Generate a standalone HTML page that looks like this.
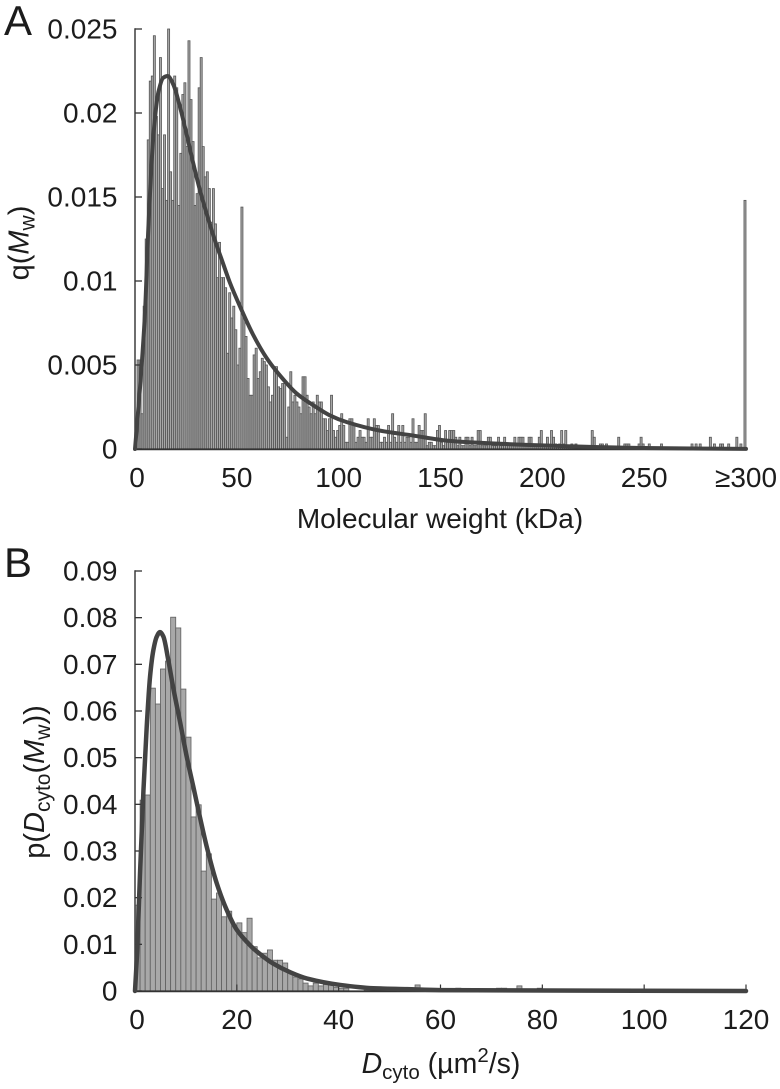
<!DOCTYPE html>
<html lang="en">
<head>
<meta charset="utf-8">
<title>Molecular weight and diffusion distributions</title>
<style>
html,body{margin:0;padding:0;background:#fff;width:780px;height:1089px;overflow:hidden}
svg{display:block}
text{font-family:"Liberation Sans",sans-serif;fill:#1c1c1c}
.tick{font-size:28px}
.title{font-size:28px}
.title-large{font-size:29px}
.title-mid{font-size:28.5px}
.panel{font-size:42px}
</style>
</head>
<body>
<svg id="figure" width="780" height="1089" viewBox="0 0 780 1089" xmlns="http://www.w3.org/2000/svg">
  <rect width="780" height="1089" fill="#fff"/>
  <g id="chartA"></g>
  <g id="chartB"></g>
  <text class="panel" x="4" y="35">A</text>
  <text class="panel" x="4" y="577">B</text>
  <text class="title" x="440" y="528" text-anchor="middle">Molecular weight (kDa)</text>
  <text class="title-large" transform="translate(28.5,243) rotate(-90)" text-anchor="middle">q(<tspan font-style="italic">M</tspan><tspan font-size="21" dy="6">w</tspan><tspan dy="-6">)</tspan></text>
  <text class="title-mid" x="441" y="1073" text-anchor="middle"><tspan font-style="italic">D</tspan><tspan font-size="20.5" dy="6">cyto</tspan><tspan dy="-6"> (µm</tspan><tspan font-size="20.5" dy="-11">2</tspan><tspan dy="11">/s)</tspan></text>
  <text class="title-large" transform="translate(44,782) rotate(-90)" text-anchor="middle">p(<tspan font-style="italic">D</tspan><tspan font-size="21" dy="6">cyto</tspan><tspan dy="-6">(</tspan><tspan font-style="italic">M</tspan><tspan font-size="21" dy="6">w</tspan><tspan dy="-6">))</tspan></text>
</svg>
<script>
// Panel A data
var massBinValues = [
.0014,.0053,.0053,.0021,.0085,.0125,.0184,.0219,.0222,.0246,
.0198,.0187,.0233,.0155,.0187,.0148,.025,.0165,.0148,.0222,
.0215,.0145,.0176,.0211,.0218,.018,.0243,.0208,.0183,.0145,
.0152,.0215,.0233,.018,.0162,.0165,.0155,.0135,.0155,.0134,
.0102,.0123,.0102,.0102,.0096,.0057,.0093,.0078,.0085,.0071,
.005,.006,.0144,.0078,.0067,.0042,.0032,.0032,.0056,.006,
.0042,.0046,.0054,.0052,.005,.0037,.0028,.0032,.0049,.0049,
.0037,.0036,.0039,.0039,.0007,.0025,.0046,.0028,.0032,.0028,
.0025,.0021,.0043,.0043,.0032,.0025,.0021,.0028,.0021,.0032,
.0028,.0028,.0018,.0018,.0011,.0018,.0032,.0011,.0007,.0011,
.0014,.0021,.0014,.0004,.0004,.0018,.0018,.0014,.0004,.0007,
.0011,.0007,.0007,.0004,.0018,.0007,.0007,.0018,.0014,.0014,
.0004,.0004,.0007,.0004,.0014,.0004,.0021,.0007,.0004,.0014,
.0004,.0014,.0004,.0007,.0007,.0004,.0018,.0004,.0004,.0014,
.0011,.0011,.0021,.0002,.0004,.0004,.0002,.0002,.0011,.0014,
.0004,.0002,.0011,.0004,.0011,.0011,.0011,.0007,.0002,.0007,
.0002,.0002,.0007,.0007,.0002,.0007,.0002,.0002,.0011,.0011,
.0002,.0002,.0002,.0007,.0007,.0002,.0002,.0002,.0007,.0002,
.0002,.0007,.0002,.0002,.0002,.0002,.0007,.0002,.0007,.0007,
.0007,.0002,.0002,.0007,.0007,.0002,.0002,.0002,.0007,.0011,
.0002,.0002,.0007,.0002,.0011,.0007,.0003,.0002,.0003,.0011,
.0003,.0011,.0002,.0002,.0003,.0002,.0003,0,0,0,
0,0,0,0,.0011,.0007,0,0,.0003,.0003,
0,.0003,0,0,0,0,0,.0007,0,0,
.0003,.0003,.0003,0,0,0,0,.0003,.0007,.0003,
0,0,.0003,0,0,0,0,0,.0003,0,
0,0,0,0,0,0,0,0,0,0,
0,0,0,.0003,0,.0003,0,.0003,0,0,
0,0,.0007,0,.0003,0,0,.0003,.0003,0,
0,.0003,0,0,0,.0007,0,.0003,0,.0148];
var massCurveX = [0,2.5,4.9,6.5,9,11.5,13.9,16,18.8,22,25.4,28.6,31.9,35.2,39.3,42.5,46.6,51.5,58,64.7,71,79.4,87.6,95.7,104,120,136.6,153,169,194,250,300];
var massCurveY = [0,.0037,.0081,.013,.0186,.02125,.0221,.0222,.0217,.0204,.0187,.017,.0154,.014,.0124,.0113,.0099,.0085,.0068,.0054,.0044,.0033,.0026,.002,.0016,.0011,.0008,.0005,.00037,.00024,.00006,.00001];
var massXTicks = [0,50,100,150,200,250,300];
var massXTickLabels = ["0","50","100","150","200","250","≥300"];
var massYTicks = [0,.005,.01,.015,.02,.025];
var massYTickLabels = ["0","0.005","0.01","0.015","0.02","0.025"];

// Panel B data
var diffBinValues = [
.0184,.0409,.042,.0649,.0615,.069,.0707,.0801,.0778,.0647,
.0544,.0373,.0399,.0257,.0294,.0197,.021,.0159,.0171,.0139,
.0146,.0125,.0156,.0095,.0071,.0081,.0088,.0066,.0066,.006,
.0039,.003,.0026,.0017,.0011,.0017,.0011,.0014,.0014,.0008,
.0006,.0006,0,0,0,.0002,.0002,.0002,.0008,.0002,
.0002,.0002,.0002,.0002,.0002,.0013,.0004,0,0,0,
0,0,.0002,.0006,.0002,0,0,0,0,0,
0,.0006,.0006,0,.0002,.0011,0,0,0,.0006,
0,0,0,0,0,0,0,0,0,0,
0,0,0,0,0,0,0,0,0,0,
0,0,0,0,0,0,0,0,0,0,
0,0,0,0,0,0,0,0,0,0];
var diffCurveX = [0,.4,.98,1.66,2.3,2.95,3.6,4.26,4.9,5.56,6.54,7.52,8.84,10.16,11.45,12.44,14.09,16.05,18,20,22.6,23.9,27.1,30.5,33.7,40.3,46.8,53.4,60,120];
var diffCurveY = [0,.008,.025,.043,.0566,.0673,.073,.0759,.0769,.076,.0709,.0649,.0577,.0502,.0438,.0388,.0309,.0231,.0174,.0131,.0098,.0085,.0059,.004,.0027,.0013,.0006,.0004,.0002,0];
var diffXTicks = [0,20,40,60,80,100,120];
var diffXTickLabels = ["0","20","40","60","80","100","120"];
var diffYTicks = [0,.01,.02,.03,.04,.05,.06,.07,.08,.09];
var diffYTickLabels = ["0","0.01","0.02","0.03","0.04","0.05","0.06","0.07","0.08","0.09"];

var NS = 'http://www.w3.org/2000/svg';
function make(tag, parent, attrs, txt){
  var n = document.createElementNS(NS, tag);
  for (var k in attrs) n.setAttribute(k, attrs[k]);
  if (txt !== undefined) n.textContent = txt;
  parent.appendChild(n);
  return n;
}
function linear(d0, d1, r0, r1){
  return function(v){ return r0 + (v - d0) * (r1 - r0) / (d1 - d0); };
}
// Smooth path through the read points, using local slopes that never overshoot.
function smoothPath(px, py){
  var n = px.length, slopes = [], tangents = [], i, d;
  for (i = 0; i < n - 1; i++) slopes.push((py[i + 1] - py[i]) / (px[i + 1] - px[i]));
  tangents.push(slopes[0]);
  for (i = 1; i < n - 1; i++) {
    tangents.push(slopes[i - 1] * slopes[i] <= 0 ? 0 :
      2 * slopes[i - 1] * slopes[i] / (slopes[i - 1] + slopes[i]));
  }
  tangents.push(slopes[n - 2]);
  d = 'M' + px[0].toFixed(2) + ' ' + py[0].toFixed(2);
  for (i = 0; i < n - 1; i++) {
    var h = (px[i + 1] - px[i]) / 3;
    d += 'C' + (px[i] + h).toFixed(2) + ' ' + (py[i] + tangents[i] * h).toFixed(2) + ' ' +
      (px[i + 1] - h).toFixed(2) + ' ' + (py[i + 1] - tangents[i + 1] * h).toFixed(2) + ' ' +
      px[i + 1].toFixed(2) + ' ' + py[i + 1].toFixed(2);
  }
  return d;
}

function drawPanel(host, prefix, o){
  var x = linear(o.xMin, o.xMax, 135, 746);
  var y = linear(0, o.yMax, o.y0, o.y1);
  var el, i;

  var bars = make('g', host, {});
  
  
  for (i = 0; i < o.bins.length; i++) {
    if (!o.bins[i]) continue;
    var top = y(o.bins[i]);
    el = make('rect', bars, {
      x: x(i * o.binWidth).toFixed(2),
      y: top.toFixed(2),
      width: (x((i + 1) * o.binWidth) - x(i * o.binWidth)).toFixed(2),
      height: (o.y0 - top).toFixed(2),
      fill: o.barFill,
      stroke: o.barStroke,
      'stroke-width': o.barStrokeWidth
    });
    
    
  }

  var yAxis = make('line', host, {x1:135, x2:135, y1:y(o.yMax) - 0.7, y2:o.y0 + 1, stroke:'#4a4a4a', 'stroke-width':1.6});
  
  

  var xAxis = make('line', host, {x1:134, x2:747, y1:o.y0 + 0.3, y2:o.y0 + 0.3, stroke:'#333', 'stroke-width':1.8});
  
  

  for (i = 0; i < o.yTicks.length; i++) {
    el = make('line', host, {x1:135, x2:142, y1:y(o.yTicks[i]), y2:y(o.yTicks[i]), stroke:'#333', 'stroke-width':1.3});
    
    
    el = make('text', host, {'class':'tick', x:117.5, y:y(o.yTicks[i]) + 9.5, 'text-anchor':'end'}, o.yLabels[i]);
    
    
  }

  for (i = 0; i < o.xTicks.length; i++) {
    var px = x(o.xTicks[i]);
    if (o.xTickMarks) {
      el = make('line', host, {x1:px, x2:px, y1:o.y0, y2:o.y0 - 6.5, stroke:'#333', 'stroke-width':1.2});
      
      
    }
    el = make('text', host, {'class':'tick', x:px + (i === 0 ? 2 : 0), y:o.xLabelY, 'text-anchor':'middle'}, o.xLabels[i]);
    
    
  }

  var curve = make('path', host, {d:smoothPath(o.curveX.map(x), o.curveY.map(y)), fill:'none', stroke:'#434343', 'stroke-width':o.curveWidth, 'stroke-linejoin':'round', 'stroke-linecap':'round'});
  
  
}

drawPanel(document.getElementById('chartA'), 'mass', {
  xMin:0, xMax:300, yMax:.025, y0:449, y1:29, binWidth:1,
  bins:massBinValues, curveX:massCurveX, curveY:massCurveY,
  xTicks:massXTicks, xLabels:massXTickLabels, yTicks:massYTicks, yLabels:massYTickLabels,
  xLabelY:487, xTickMarks:false, curveWidth:4,
  barFill:'#a6a6a6', barStroke:'#555', barStrokeWidth:0.8
});
drawPanel(document.getElementById('chartB'), 'diffusion', {
  xMin:0, xMax:120, yMax:.09, y0:991, y1:571, binWidth:1,
  bins:diffBinValues, curveX:diffCurveX, curveY:diffCurveY,
  xTicks:diffXTicks, xLabels:diffXTickLabels, yTicks:diffYTicks, yLabels:diffYTickLabels,
  xLabelY:1029, xTickMarks:true, curveWidth:4.5,
  barFill:'#a8a8a8', barStroke:'#606060', barStrokeWidth:0.8
});
</script>
</body>
</html>
